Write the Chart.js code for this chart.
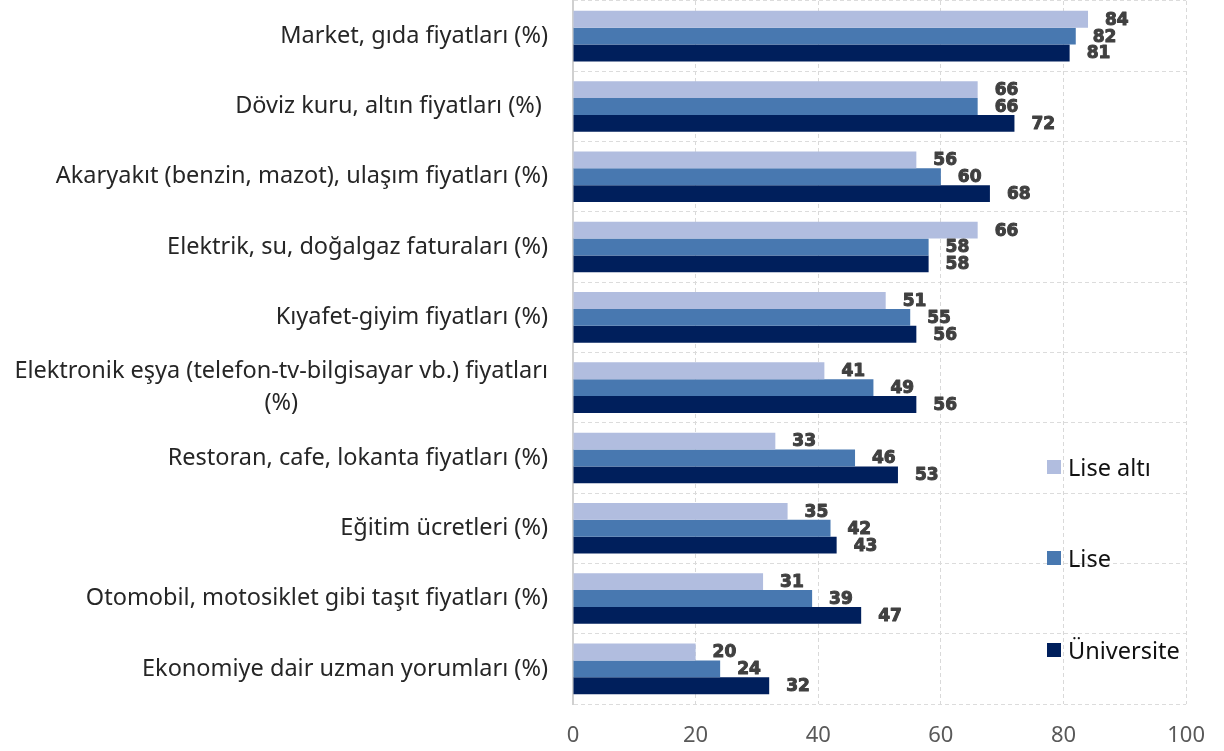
<!DOCTYPE html>
<html>
<head>
<meta charset="utf-8">
<script src="https://cdn.jsdelivr.net/npm/chart.js@4"></script>
<style>
  html, body { margin: 0; padding: 0; background: #fff; }
  #wrap { position: relative; width: 1224px; height: 751px; }
  #legend { position: absolute; left: 1047px; top: 0; font-family: "Noto Sans", sans-serif; font-size: 23.5px; color: #111; }
  #legend .item { position: absolute; left: 0; white-space: nowrap; display: flex; align-items: center; }
  #legend .box { width: 14px; height: 14px; margin-right: 7px; }
</style>
</head>
<body>
<div id="wrap">
  <canvas id="chart" width="1224" height="751"></canvas>
  <div id="legend"></div>
</div>
<script>
// ----------------------- Data ----------------------------------
const categories = [
  "Market, gıda fiyatları (%)",
  "Döviz kuru, altın fiyatları (%) ",
  "Akaryakıt (benzin, mazot), ulaşım fiyatları (%)",
  "Elektrik, su, doğalgaz faturaları (%)",
  "Kıyafet-giyim fiyatları (%)",
  ["Elektronik eşya (telefon-tv-bilgisayar vb.) fiyatları", "(%)"],
  "Restoran, cafe, lokanta fiyatları (%)",
  "Eğitim ücretleri (%)",
  "Otomobil, motosiklet gibi taşıt fiyatları (%)",
  "Ekonomiye dair uzman yorumları (%)"
];
const liseAlti   = [84, 66, 56, 66, 51, 41, 33, 35, 31, 20];
const lise       = [82, 66, 60, 58, 55, 49, 46, 42, 39, 24];
const universite = [81, 72, 68, 58, 56, 56, 53, 43, 47, 32];
const xTicks = [0, 20, 40, 60, 80, 100];

const seriesNames = ["Lise altı", "Lise", "Üniversite"];
const seriesColors = ["#b1bddf", "#4878b0", "#001f5c"];
const legendY = [467, 558, 650];

const labelFont = '"Noto Sans", sans-serif';

// ----------------------- Plugins ----------------------------------
// draws the category labels on the left (right aligned, multi-line centered)
const yLabelPlugin = {
  id: 'yLabels',
  afterDraw(chart) {
    const ctx = chart.ctx;
    const yScale = chart.scales.y;
    ctx.save();
    ctx.font = '23.5px ' + labelFont;
    ctx.fillStyle = '#262626';
    ctx.textBaseline = 'middle';
    const right = 548;
    categories.forEach((label, i) => {
      const y = yScale.getPixelForValue(i);
      const lines = Array.isArray(label) ? label : [label];
      const lineH = 32;
      const maxW = Math.max(...lines.map(l => ctx.measureText(l).width));
      const centerX = right - maxW / 2;
      lines.forEach((line, j) => {
        const ly = y + (j - (lines.length - 1) / 2) * lineH;
        if (lines.length > 1) {
          ctx.textAlign = 'center';
          ctx.fillText(line, centerX, ly);
        } else {
          ctx.textAlign = 'right';
          ctx.fillText(line, right, ly);
        }
      });
    });
    ctx.restore();
  }
};

// value labels to the right of each bar
const valueLabelPlugin = {
  id: 'valueLabels',
  afterDatasetsDraw(chart) {
    const ctx = chart.ctx;
    ctx.save();
    ctx.font = 'bold 17px "DejaVu Sans", sans-serif';
    ctx.fillStyle = '#404040';
    ctx.strokeStyle = '#404040';
    ctx.lineWidth = 1;
    ctx.lineJoin = 'round';
    ctx.textAlign = 'left';
    ctx.textBaseline = 'middle';
    chart.data.datasets.forEach((ds, di) => {
      const meta = chart.getDatasetMeta(di);
      meta.data.forEach((bar, i) => {
        ctx.strokeText(ds.data[i], bar.x + 17, bar.y + 1);
        ctx.fillText(ds.data[i], bar.x + 17, bar.y + 1);
      });
    });
    ctx.restore();
  }
};

// ----------------------- Chart ----------------------------------
const ctx = document.getElementById('chart').getContext('2d');
new Chart(ctx, {
  type: 'bar',
  data: {
    labels: categories,
    datasets: [liseAlti, lise, universite].map((d, i) => ({
      label: seriesNames[i],
      data: d,
      backgroundColor: seriesColors[i],
      borderWidth: 0,
      categoryPercentage: 0.72,
      barPercentage: 1
    }))
  },
  options: {
    indexAxis: 'y',
    responsive: false,
    animation: false,
    layout: { padding: { left: 0, right: 36, top: 1, bottom: 0 } },
    plugins: {
      legend: { display: false },
      tooltip: { enabled: false }
    },
    scales: {
      x: {
        min: 0,
        max: 100,
        afterBuildTicks: scale => { scale.ticks = xTicks.map(v => ({ value: v })); },
        afterFit: scale => { scale.height = 47; },
        grid: { color: '#d9d9d9', drawTicks: false },
        border: { display: false, dash: [4, 3] },
        ticks: {
          padding: 19,
          color: '#595959',
          font: { family: labelFont, size: 22 }
        }
      },
      y: {
        afterFit: scale => { scale.width = 573; },
        grid: { color: '#dcdcdc', drawTicks: false, offset: true },
        border: { display: true, color: '#d0d0d0', width: 2, dash: [4, 3] },
        ticks: { display: false }
      }
    }
  },
  plugins: [yLabelPlugin, valueLabelPlugin]
});

// ----------------------- Legend (HTML) ----------------------------------
const legendEl = document.getElementById('legend');
seriesNames.forEach((name, i) => {
  const item = document.createElement('div');
  item.className = 'item';
  item.style.top = (legendY[i] - 16) + 'px';
  item.innerHTML = `<span class="box" style="background:${seriesColors[i]}"></span><span>${name}</span>`;
  legendEl.appendChild(item);
});
</script>
</body>
</html>
